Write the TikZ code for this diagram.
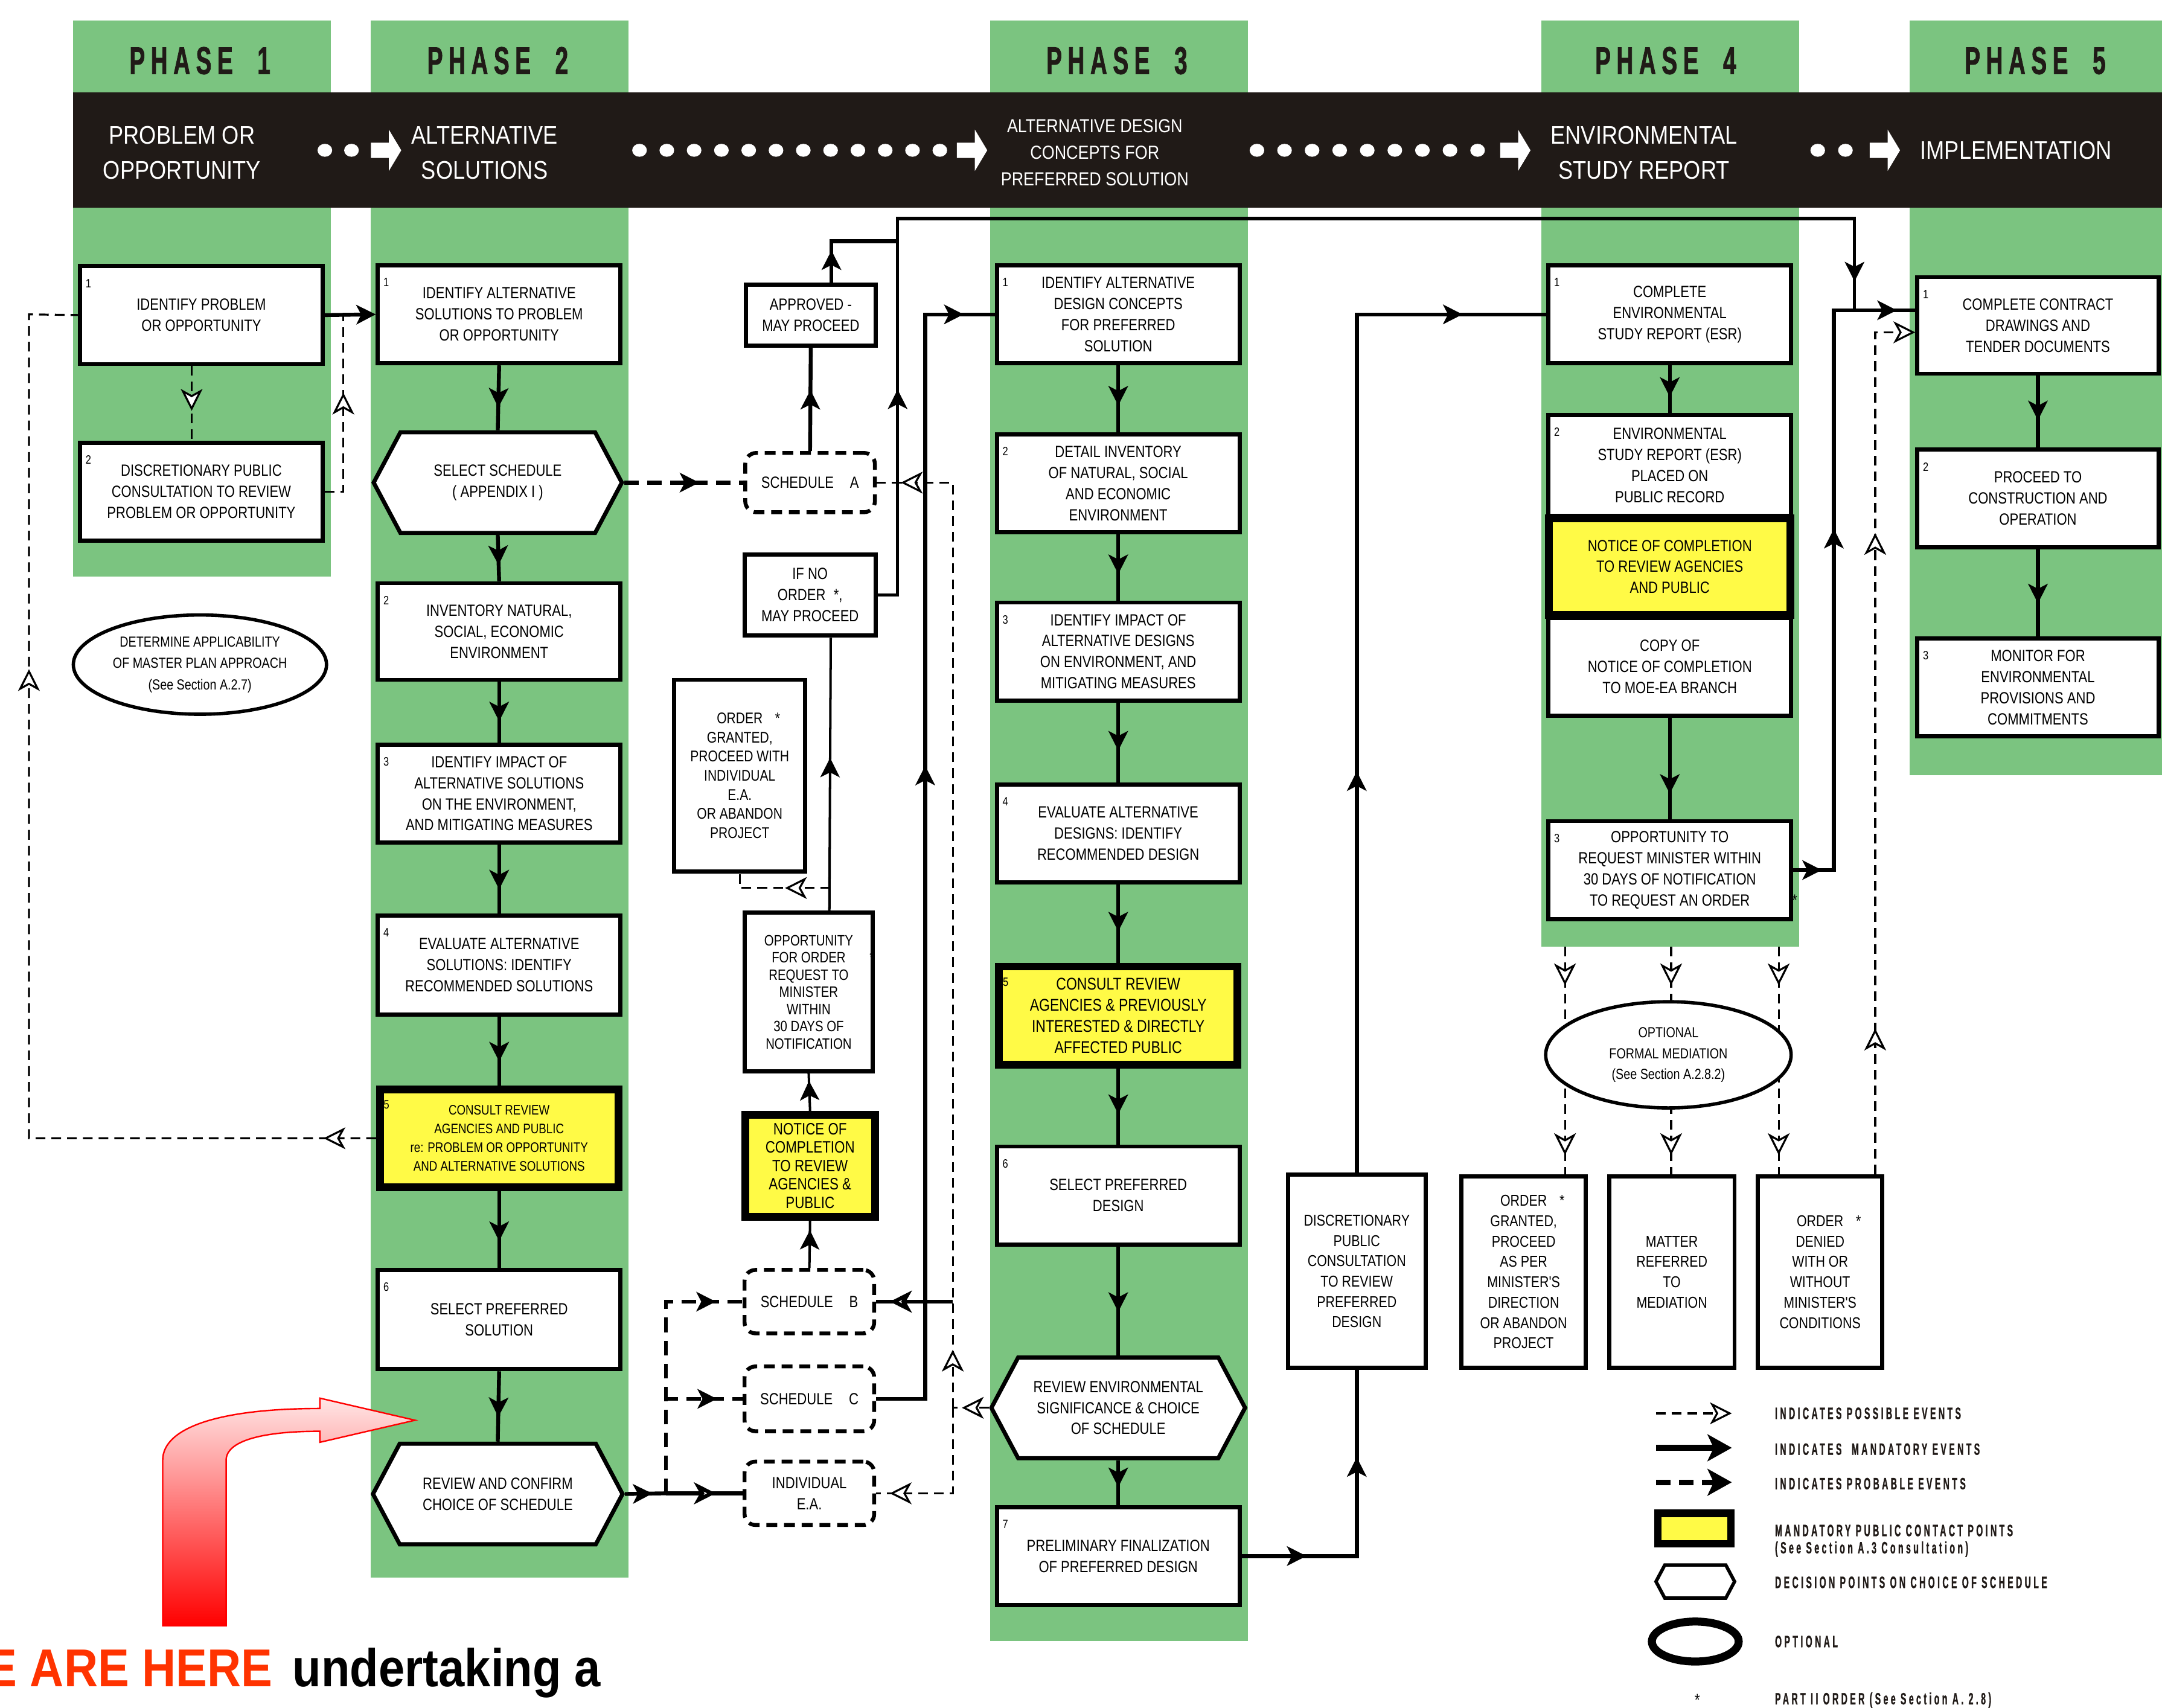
\documentclass[tikz,border=0pt]{standalone}
\usepackage{fontspec}
\setmainfont{Liberation Sans}
\newfontfamily\boxfont[FakeStretch=0.82]{Liberation Sans}
\newfontfamily\bandfont[FakeStretch=0.86]{Liberation Sans}
\newfontfamily\phasefont[FakeStretch=0.6,LetterSpace=15,BoldFeatures={FakeBold=1.2}]{Liberation Sans}
\newfontfamily\keyfont[FakeStretch=0.52,LetterSpace=16,BoldFeatures={FakeBold=1}]{Liberation Sans}
\newfontfamily\herefont[FakeStretch=0.88]{Liberation Sans}
\usetikzlibrary{arrows.meta,decorations.markings,shapes.geometric,shapes.symbols,calc}
\definecolor{phasegreen}{RGB}{123,196,128}
\definecolor{bandblack}{RGB}{32,26,23}
\definecolor{noticeyellow}{RGB}{255,250,70}
\definecolor{herered}{RGB}{255,51,0}
\tikzset{
  tipfill/.tip={Stealth[length=8pt,width=8pt,inset=2pt]},
  tipopen/.tip={Stealth[length=9pt,width=9pt,inset=2.5pt,fill=white]},
  tipbig/.tip={Stealth[length=10pt,width=11pt,inset=2.5pt]},
  arrowat/.style 2 args={postaction={decorate,decoration={markings,mark=at position #1 with {\arrow{#2}}}}},
  mand/.style={line width=1.6pt},
  prob/.style={line width=1.6pt,dash pattern=on 6pt off 3.5pt},
  poss/.style={line width=0.8pt,dash pattern=on 4pt off 2.5pt},
  sz/.style 2 args={minimum width=#1*0.02cm,minimum height=#2*0.02cm},
  box/.style={draw,line width=1.7pt,fill=white,inner sep=1pt,align=center,font=\boxfont\fontsize{6.7}{8.7}\selectfont},
  num/.style={anchor=north west,inner sep=0pt,xshift=3pt,yshift=-6pt,font=\boxfont\fontsize{5}{5}\selectfont},
  nbox/.style={box,label={[num]north west:#1}},
  ybox/.style={box,fill=noticeyellow,line width=3.2pt},
  nybox/.style={ybox,label={[num]north west:#1}},
  hexbox/.style={box,shape=signal,signal to=west and east,signal pointer angle=124},
  sched/.style={box,line width=1.6pt,dash pattern=on 4.5pt off 2.8pt,rounded corners=4.5pt},
  oval/.style={box,ellipse,line width=1.4pt},
  phasetitle/.style={font=\phasefont\bfseries\fontsize{16}{16}\selectfont,text=bandblack,inner sep=0pt},
  bandtext/.style={text=white,align=center,inner sep=0pt,font=\bandfont\fontsize{10.5}{14.3}\selectfont},
  keytext/.style={anchor=west,inner sep=0pt,font=\keyfont\bfseries\fontsize{6.8}{6.8}\selectfont,text=bandblack}
}
\begin{document}
\begin{tikzpicture}[x=0.02cm,y=-0.02cm]
\useasboundingbox (0,0) rectangle (1568,1238.3);
\fill[phasegreen] (53,15) rectangle (240,418);
\fill[phasegreen] (269,15) rectangle (456,1144);
\fill[phasegreen] (718,15) rectangle (905,1190);
\fill[phasegreen] (1118,15) rectangle (1305,686.5);
\fill[phasegreen] (1385,15) rectangle (1568,562);
\fill[bandblack] (53,67) rectangle (1568,150.5);
\node[phasetitle] (ph1) at (145,44) {PHASE\ \ 1};
\node[phasetitle] (ph2) at (361,44) {PHASE\ \ 2};
\node[phasetitle] (ph3) at (810,44) {PHASE\ \ 3};
\node[phasetitle] (ph4) at (1208,44) {PHASE\ \ 4};
\node[phasetitle] (ph5) at (1476,44) {PHASE\ \ 5};
\foreach \x in {235.6,254.9,1318.3,1338.4} \fill[white] (\x,109) ellipse [x radius=5.3,y radius=4.7];
\foreach \i in {0,...,11} \fill[white] (463.8+19.8*\i,109) ellipse [x radius=5.3,y radius=4.7];
\foreach \i in {0,...,8} \fill[white] (911.6+20*\i,109) ellipse [x radius=5.3,y radius=4.7];
\foreach \a in {269,694,1088,1356} \fill[white] (\a,103.5) -- ++(13,0) -- ++(0,-9.5) -- ++(9,15) -- ++(-9,15) -- ++(0,-9.5) -- ++(-13,0) -- cycle;
\node[bandtext] (bt1) at (132,110.8) {PROBLEM OR\\OPPORTUNITY};
\node[bandtext] (bt2) at (351.4,110.8) {ALTERNATIVE\\SOLUTIONS};
\node[bandtext,font=\bandfont\fontsize{7.8}{11}\selectfont] (bt3) at (794,110.5) {ALTERNATIVE DESIGN\\CONCEPTS FOR\\PREFERRED SOLUTION};
\node[bandtext] (bt4) at (1192.4,110.8) {ENVIRONMENTAL\\STUDY REPORT};
\node[bandtext] (bt5) at (1462,109) {IMPLEMENTATION};

\node[nbox=1,sz={176}{71}] (p1a) at (146,228.5) {IDENTIFY PROBLEM\\OR OPPORTUNITY};
\node[nbox=2,sz={176}{71}] (p1b) at (146,356.5) {DISCRETIONARY PUBLIC\\CONSULTATION TO REVIEW\\PROBLEM OR OPPORTUNITY};
\node[oval,sz={178}{72},font=\boxfont\fontsize{6}{8.8}\selectfont] (mast) at (145,482) {DETERMINE APPLICABILITY\\OF MASTER PLAN APPROACH\\(See Section A.2.7)};

\node[nbox=1,sz={176}{71}] (p2a) at (362,228) {IDENTIFY ALTERNATIVE\\SOLUTIONS TO PROBLEM\\OR OPPORTUNITY};
\node[hexbox,sz={180}{73}] (s1) at (361,350) {SELECT SCHEDULE\\( APPENDIX I )};
\node[nbox=2,sz={176}{70}] (p2b) at (362,458) {INVENTORY NATURAL,\\SOCIAL, ECONOMIC\\ENVIRONMENT};
\node[nbox=3,sz={176}{71}] (p2c) at (362,575.5) {IDENTIFY IMPACT OF\\ALTERNATIVE SOLUTIONS\\ON THE ENVIRONMENT,\\AND MITIGATING MEASURES};
\node[nbox=4,sz={176}{72}] (p2d) at (362,700) {EVALUATE ALTERNATIVE\\SOLUTIONS: IDENTIFY\\RECOMMENDED SOLUTIONS};
\node[nybox=5,sz={173}{71},font=\boxfont\fontsize{5.7}{7.7}\selectfont] (p2e) at (362,825.5) {CONSULT REVIEW\\AGENCIES AND PUBLIC\\re: PROBLEM OR OPPORTUNITY\\AND ALTERNATIVE SOLUTIONS};
\node[nbox=6,sz={176}{72}] (p2f) at (362,957) {SELECT PREFERRED\\SOLUTION};
\node[hexbox,sz={181}{73}] (s2) at (361,1083.5) {REVIEW AND CONFIRM\\CHOICE OF SCHEDULE};

\node[box,sz={94}{44}] (appr) at (588,228.5) {APPROVED -\\MAY PROCEED};
\node[sched,sz={94}{43}] (schA) at (587.5,350) {SCHEDULE\quad A};
\node[box,sz={95}{59}] (ifno) at (587.5,431.5) {IF NO\\ORDER\enspace*,\\MAY PROCEED};
\node[box,sz={95}{139},font=\boxfont\fontsize{6.4}{7.9}\selectfont] (ordga) at (536.5,562.5) {ORDER\rlap{\hspace{0.8em}*}\\GRANTED,\\PROCEED WITH\\INDIVIDUAL\\E.A.\\OR ABANDON\\PROJECT};
\node[box,sz={93}{115},font=\boxfont\fontsize{6.2}{7.1}\selectfont] (oppo) at (586.5,719.5) {OPPORTUNITY\\FOR ORDER\rlap{\hspace{1.6em}*}\\REQUEST TO\\MINISTER\\WITHIN\\30 DAYS OF\\NOTIFICATION};
\node[ybox,sz={94}{74},font=\boxfont\fontsize{6.8}{7.6}\selectfont] (notice) at (587.5,845.5) {NOTICE OF\\COMPLETION\\TO REVIEW\\AGENCIES \&\\PUBLIC};
\node[sched,sz={94}{46}] (schB) at (587,944) {SCHEDULE\quad B};
\node[sched,sz={94}{47}] (schC) at (587,1014.5) {SCHEDULE\quad C};
\node[sched,sz={94}{46}] (indea) at (587,1083) {INDIVIDUAL\\E.A.};

\node[nbox=1,sz={176}{71}] (p3a) at (811,228) {IDENTIFY ALTERNATIVE\\DESIGN CONCEPTS\\FOR PREFERRED\\SOLUTION};
\node[nbox=2,sz={176}{71}] (p3b) at (811,350.5) {DETAIL INVENTORY\\OF NATURAL, SOCIAL\\AND ECONOMIC\\ENVIRONMENT};
\node[nbox=3,sz={176}{71}] (p3c) at (811,472.5) {IDENTIFY IMPACT OF\\ALTERNATIVE DESIGNS\\ON ENVIRONMENT, AND\\MITIGATING MEASURES};
\node[nbox=4,sz={176}{71}] (p3d) at (811,604.5) {EVALUATE ALTERNATIVE\\DESIGNS: IDENTIFY\\RECOMMENDED DESIGN};
\node[nybox=5,sz={173}{71},font=\boxfont\fontsize{7}{8.7}\selectfont] (p3e) at (811,736.5) {CONSULT REVIEW\\AGENCIES \& PREVIOUSLY\\INTERESTED \& DIRECTLY\\AFFECTED PUBLIC};
\node[nbox=6,sz={176}{71}] (p3f) at (811,867) {SELECT PREFERRED\\DESIGN};
\node[hexbox,sz={184}{73}] (s3) at (811,1021) {REVIEW ENVIRONMENTAL\\SIGNIFICANCE \& CHOICE\\OF SCHEDULE};
\node[nbox=7,sz={176}{71}] (p3g) at (811,1128.5) {PRELIMINARY FINALIZATION\\OF PREFERRED DESIGN};

\node[box,sz={100}{140},font=\boxfont\fontsize{6.5}{8.4}\selectfont] (disc) at (984,922) {DISCRETIONARY\\PUBLIC\\CONSULTATION\\TO REVIEW\\PREFERRED\\DESIGN};

\node[nbox=1,sz={176}{71}] (p4a) at (1211,228) {COMPLETE\\ENVIRONMENTAL\\STUDY REPORT (ESR)};
\node[nbox=2,sz={176}{73}] (p4b) at (1211,337.5) {ENVIRONMENTAL\\STUDY REPORT (ESR)\\PLACED ON\\PUBLIC RECORD};
\node[box,sz={176}{71}] (p4cp) at (1211,483.5) {COPY OF\\NOTICE OF COMPLETION\\TO MOE-EA BRANCH};
\node[ybox,sz={175}{70}] (p4n) at (1211,411) {NOTICE OF COMPLETION\\TO REVIEW AGENCIES\\AND PUBLIC};
\node[nbox=3,sz={176}{71}] (p4c) at (1211,631) {OPPORTUNITY TO\\REQUEST MINISTER WITHIN\\30 DAYS OF NOTIFICATION\\TO REQUEST AN ORDER\rlap{\hspace{2.6em}*}};
\node[box,sz={90}{139},font=\boxfont\fontsize{6.5}{8.4}\selectfont] (ordg2) at (1105,922.5) {ORDER\rlap{\hspace{0.8em}*}\\GRANTED,\\PROCEED\\AS PER\\MINISTER'S\\DIRECTION\\OR ABANDON\\PROJECT};
\node[box,sz={91}{139},font=\boxfont\fontsize{6.5}{8.4}\selectfont] (matter) at (1212.5,922.5) {MATTER\\REFERRED\\TO\\MEDIATION};
\node[box,sz={90}{139},font=\boxfont\fontsize{6.5}{8.4}\selectfont] (orddn) at (1320,922.5) {ORDER\rlap{\hspace{0.8em}*}\\DENIED\\WITH OR\\WITHOUT\\MINISTER'S\\CONDITIONS};

\node[nbox=1,sz={175}{70}] (p5a) at (1478,236) {COMPLETE CONTRACT\\DRAWINGS AND\\TENDER DOCUMENTS};
\node[nbox=2,sz={175}{71}] (p5b) at (1478,361.5) {PROCEED TO\\CONSTRUCTION AND\\OPERATION};
\node[nbox=3,sz={175}{71}] (p5c) at (1478,498.5) {MONITOR FOR\\ENVIRONMENTAL\\PROVISIONS AND\\COMMITMENTS};

\draw[mand,-{tipfill}] (p1a.east) -- (p2a.west);
\draw[poss,arrowat={0.6}{tipopen}] ($(p1a.south)+(-7,0)$) -- ($(p1b.north)+(-7,0)$);
\coordinate (j1) at (249,228);
\draw[poss,arrowat={0.6}{tipopen}] (p1b.east) -| (j1);
\coordinate (c4) at (21,228);
\draw[poss,arrowat={0.043}{tipopen},arrowat={0.669}{tipopen}] (p2e.west) -| (c4) -- (p1a.west);
\foreach \a/\b in {p2a/s1,s1/p2b,p2b/p2c,p2c/p2d,p2d/p2e,p2e/p2f,p2f/s2}
  \draw[mand,arrowat={0.65}{tipfill}] (\a.south) -- (\b.north);

\draw[prob,arrowat={0.63}{tipfill}] (s1.east) -- (schA.west);
\draw[mand,arrowat={0.59}{tipfill}] (schA.north) -- (appr.south);
\coordinate (k1) at (651,175);
\draw[mand,arrowat={0.3}{tipfill}] ($(appr.north)+(15,0)$) |- (k1);
\coordinate (k2) at (651,158.5);
\coordinate (k3) at (1345,225);
\draw[mand,line width=1.3pt,arrowat={0.156}{tipfill},arrowat={0.98}{tipfill}] (ifno.east) -| (k2) -| (k3);
\draw[mand,line width=1pt,arrowat={0.56}{tipfill}] ($(oppo.north)+(15,0)$) -- ($(ifno.south)+(15,0)$);
\coordinate (k4) at (602,644);
\draw[poss,arrowat={0.43}{tipopen}] (k4) -| (ordga.south);
\draw[mand,line width=1pt,arrowat={0.8}{tipfill}] (notice.north) -- (oppo.south);
\draw[mand,line width=1pt,arrowat={0.8}{tipfill}] (schB.north) -- (notice.south);
\coordinate (j2) at (483,1083);
\draw[mand,arrowat={0.67}{tipfill}] (s2.east) -- (j2);
\draw[mand,arrowat={0.65}{tipopen}] (j2) -- (indea.west);
\draw[prob,arrowat={0.9}{tipfill}] (j2) |- (schB.west);
\draw[prob,arrowat={0.85}{tipfill}] (j2) |- (schC.west);
\coordinate (k5) at (671,228);
\draw[mand,arrowat={0.567}{tipfill},arrowat={0.974}{tipfill}] (schC.east) -| (k5) -- (p3a.west);
\coordinate (k6) at (691,1021);
\coordinate (k7) at (691,350);
\coordinate (k8) at (691,1083);
\coordinate (k9) at (691,944);
\draw[poss,arrowat={0.75}{tipopen}] (s3.west) -- (k6);
\draw[poss,arrowat={0.058}{tipopen},arrowat={0.976}{tipopen}] (k6) -- (k7) -- (schA.east);
\draw[poss,arrowat={0.916}{tipopen}] (k6) -- (k8) -- (indea.east);
\draw[mand,arrowat={0.82}{tipopen}] (k9) -- (schB.east);

\foreach \a/\b in {p3a/p3b,p3b/p3c,p3c/p3d,p3d/p3e,p3e/p3f,p3f/s3,s3/p3g}
  \draw[mand,arrowat={0.6}{tipfill}] (\a.south) -- (\b.north);
\draw[mand,arrowat={0.215}{tipfill},arrowat={0.71}{tipfill}] (p3g.east) -| (disc.south);
\draw[mand,arrowat={0.383}{tipfill},arrowat={0.92}{tipfill}] (disc.north) |- (p4a.west);

\draw[mand,arrowat={0.66}{tipfill}] (p4a.south) -- (p4b.north);
\draw[mand,arrowat={0.75}{tipfill}] (p4cp.south) -- (p4c.north);
\coordinate (k11) at (1330,225);
\draw[mand,arrowat={0.042}{tipfill},arrowat={0.56}{tipfill},arrowat={0.973}{tipfill}] (p4c.east) -| (k11) -- ($(p5a.west)+(0,-11)$);
\draw[poss,arrowat={0.165}{tipopen},arrowat={0.727}{tipopen},-{tipopen}] ($(orddn.north)+(40,0)$) |- ($(p5a.west)+(0,5)$);
\coordinate (d1) at (1135,686.5);
\coordinate (d2) at (1212,686.5);
\coordinate (d3) at (1290,686.5);
\draw[poss,arrowat={0.17}{tipopen},arrowat={0.916}{tipopen}] (d1) -- (d1 |- ordg2.north);
\draw[poss,arrowat={0.17}{tipopen},arrowat={0.916}{tipopen}] (d2) -- (d2 |- matter.north);
\draw[poss,arrowat={0.17}{tipopen},arrowat={0.916}{tipopen}] (d3) -- (d3 |- orddn.north);
\node[oval,sz={178}{77},font=\boxfont\fontsize{6}{8.5}\selectfont] (medi) at (1210,765) {OPTIONAL\\FORMAL MEDIATION\\(See Section A.2.8.2)};
\foreach \a/\b in {p5a/p5b,p5b/p5c}
  \draw[mand,arrowat={0.62}{tipfill}] (\a.south) -- (\b.north);

\coordinate (la1) at (1201,1025);
\coordinate (lb1) at (1256,1025);
\coordinate (la2) at (1201,1050);
\coordinate (lb2) at (1256,1050);
\coordinate (la3) at (1201,1075);
\coordinate (lb3) at (1256,1075);
\draw[poss,-{tipopen}] (la1) -- (lb1);
\draw[mand,line width=2.4pt,-{tipbig}] (la2) -- (lb2);
\draw[prob,line width=2.2pt,-{tipbig}] (la3) -- (lb3);
\node[draw,line width=3pt,fill=noticeyellow,sz={53}{22}] (lgy) at (1229,1108.5) {};
\node[hexbox,line width=1.4pt,sz={57}{24}] (lgh) at (1229.5,1147) {};
\node[draw,ellipse,line width=3.3pt,sz={63}{29}] (lge) at (1229.5,1190.5) {};
\node[keytext] (lt1) at (1287,1025) {INDICATES POSSIBLE EVENTS};
\node[keytext] (lt2) at (1287,1051) {INDICATES\ \ MANDATORY EVENTS};
\node[keytext] (lt3) at (1287,1076) {INDICATES PROBABLE EVENTS};
\node[keytext] (lt4) at (1287,1110) {MANDATORY PUBLIC CONTACT POINTS};
\node[keytext] (lt5) at (1287,1123.5) {(See Section A.3 Consultation)};
\node[keytext] (lt6) at (1287,1147.6) {DECISION POINTS ON CHOICE OF SCHEDULE};
\node[keytext] (lt7) at (1287,1190.5) {OPTIONAL};
\node[keytext] (lt8) at (1287,1233) {PART II ORDER (See Section A. 2.8)};
\node[inner sep=0pt,font=\boxfont\fontsize{7}{7}\selectfont] (lstar) at (1231,1233) {*};

\shadedraw[top color=red!10,bottom color=red,draw=red,line width=0.6pt] (118,1179) -- (118,1059) .. controls (118,1035) and (160,1021.5) .. (232,1021.5) -- (232,1014) -- (301,1030) -- (232,1046) -- (232,1038) .. controls (190,1038) and (164,1045) .. (164,1059) -- (164,1179) -- cycle;
\node[anchor=base east,inner sep=0pt,text=herered,font=\herefont\bfseries\fontsize{22}{22}\selectfont] (here) at (198,1223) {WE ARE HERE};
\node[anchor=base west,inner sep=0pt,text=black,font=\herefont\bfseries\fontsize{22}{22}\selectfont] (undert) at (212,1223) {undertaking a};
\end{tikzpicture}
\end{document}
